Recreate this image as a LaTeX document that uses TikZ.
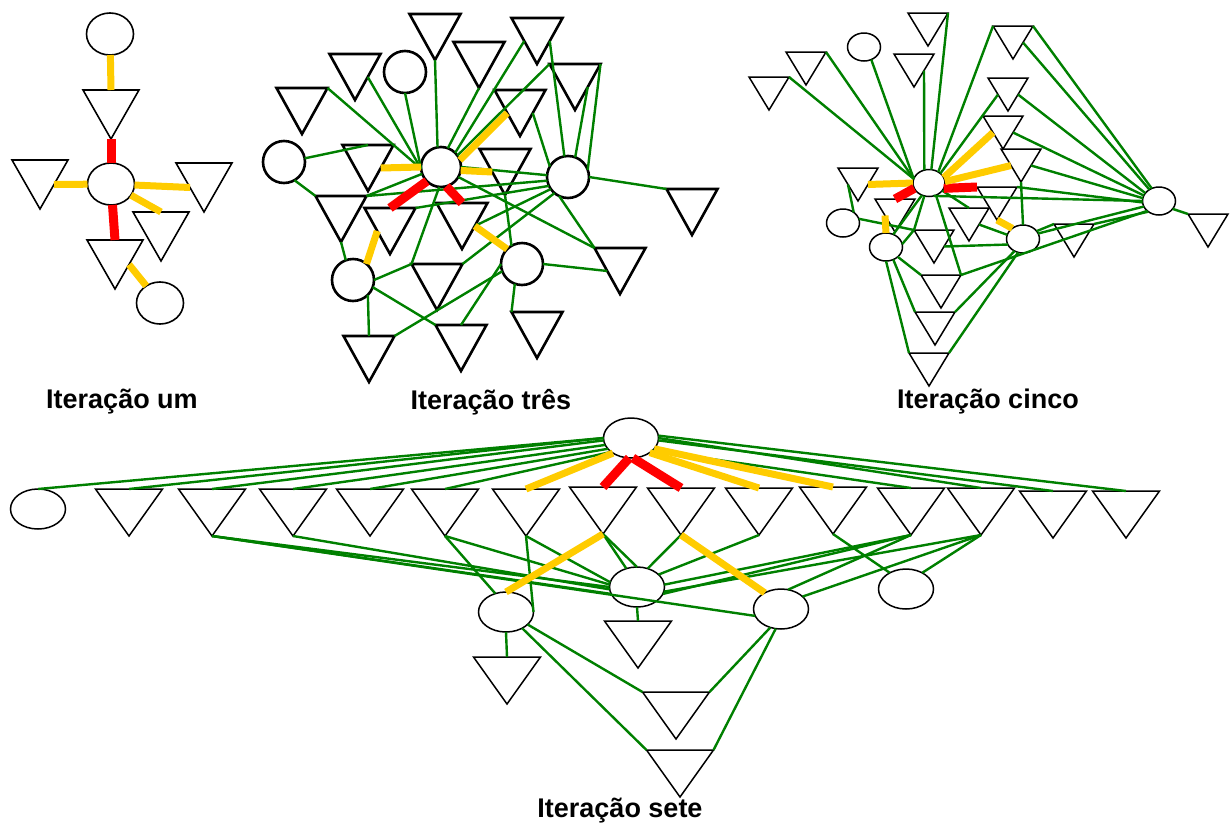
\documentclass[tikz,border=0pt]{standalone}
\usepackage{fontspec}
\setmainfont{Liberation Sans}
\usetikzlibrary{shapes.geometric}

\definecolor{linkgreen}{HTML}{008000}
\definecolor{warmyellow}{HTML}{FFCC00}
\definecolor{hotred}{HTML}{FF0000}

\newcommand{\LinkW}{2.4pt}
\newcommand{\WarmW}{7pt}
\newcommand{\HotW}{9pt}

\begin{document}
\begin{tikzpicture}[
  x=1pt, y=-1pt,
  tri w/.store in=\TriW, tri h/.store in=\TriH, tri w=56, tri h=49,
  tri/.pic={
    \draw (-\TriW/2,0) coordinate (-l) -- (\TriW/2,0) coordinate (-r) -- (0,\TriH) coordinate (-b) -- cycle;
    \coordinate (-t) at (0,0);
    \coordinate (-le) at (-\TriW/4,\TriH/2);
    \coordinate (-re) at (\TriW/4,\TriH/2);
  },
  ell/.style={ellipse, draw, fill=white, inner sep=0pt, outer sep=0pt},
  link/.style={draw=linkgreen, line width=\LinkW},
  warm/.style={draw=warmyellow, line width=\WarmW},
  hot/.style={draw=hotred, line width=\HotW},
  caption/.style={font=\bfseries\fontsize{27}{32}\selectfont}
  ]
  \useasboundingbox (0,0) rectangle (1231,828);

	%iteration one
	\begin{scope}[line width=1.6pt, tri w=56, tri h=49,
	  ell/.append style={minimum width=47pt, minimum height=42pt}]
	\foreach \n/\x/\y in {Ua/111/90, Ub/40/160, Uc/204/163, Ud/161/212, Ue/115/240}
		\pic (\n) at (\x,\y) {tri};
	\node[ell] (U0) at (111,184) {};
	\node[ell] (U1) at (110,34) {};
	\node[ell] (U2) at (160,303) {};
	\end{scope}
	\draw[warm] (U1) -- (Ua-t);
	\draw[hot] (Ua-b) -- (U0);
	\draw[warm] (Ub-re) -- (U0);
	\draw[warm] (U0) -- (Uc-le);
	\draw[warm] (U0) -- (Ud-t);
	\draw[hot] (U0) -- (Ue-t);
	\draw[warm] (Ue-re) -- (U2);
	\node[caption] (cap-um) at (122,402) {Iteração um};

	%iteration three
	\begin{scope}[line width=2.6pt, tri w=51, tri h=46,
	  ell/.append style={minimum width=42pt, minimum height=42pt}]
	\foreach \n/\x/\y in {Ta/302/88, Tb/355/54, Tc/435/14, Td/479/42, Te/537/18,
	    Tf/575/64, Tg/520/90, Th/505/149, Ti/692/189, Tj/620/248, Tk/537/312,
	    Tl/461/325, Tm/369/336, Tn/437/264, To/462/203, Tp/390/208, Tq/341/196, Tr/368/145}
		\pic (\n) at (\x,\y) {tri};
	\node[ell, minimum size=40pt] (T0) at (441,167) {};
	\node[ell] (T1) at (405,72) {};
	\node[ell] (T2) at (284,162) {};
	\node[ell] (T3) at (568,177) {};
	\node[ell] (T4) at (522,264) {};
	\node[ell] (T5) at (353,280) {};
	\end{scope}
	\foreach \a/\b in {Ta-r/T0.185, Tb-re/T0.185, T1.south/T0.185, Tc-b/T0.100, Td-b/T0.70,
	    Te-le/T0.45, Tf-l/T0.35, T2.10/Tr-t, T2.300/Tq-l, Tq-r/T0.200, Tq-r/T3.190,
	    Tp-r/T3.205, T0.east/T3.175, T0.330/Tj-l, T3.245/Tj-l, T4.east/Tj-le, T4.250/Tk-l,
	    T3.east/Ti-l, Te-re/T3.100, Tf-re/T3.70, Tf-r/T3.20, Tg-re/T3.150, Th-b/T4.120,
	    Tn-r/T3.230, Tn-l/T0.265, T5.east/Tn-l, T5.340/Tl-l, T5.315/Tm-t, Tm-r/T4.200,
	    Tl-t/T4.180, Tq-b/T5.110, To-re/T3.215}
		\draw[link] (\a) -- (\b);
	\draw[warm] (Tr-re) -- (T0.west);
	\draw[hot] (Tp-t) -- (T0.225);
	\draw[hot] (T0.285) -- (To-t);
	\draw[warm] (Tg-le) -- (T0.20);
	\draw[warm] (T0.350) -- (Th-le);
	\draw[warm] (To-re) -- (T4.135);
	\draw[warm] (Tp-le) -- (T5.50);
	\node[caption] (cap-tres) at (491,402) {Iteração três};

	%iteration five
	\begin{scope}[line width=1.5pt, tri w=40, tri h=33,
	  ell/.append style={minimum width=33pt, minimum height=28pt}]
	\foreach \n/\x/\y in {Ca/769/77, Cb/806/52, Cc/928/13, Cd/914/54, Ce/1013/26,
	    Cf/1008/78, Cg/1003/116, Ch/1021/149, Ci/1208/214, Cj/1074/224, Ck/997/187,
	    Cl/969/208, Cm/895/199, Cn/934/230, Co/941/275, Cp/935/312, Cq/929/353, Cr/858/168}
		\pic (\n) at (\x,\y) {tri};
	\node[ell, minimum width=32pt, minimum height=27pt] (C0) at (929,183) {};
	\node[ell] (C1) at (864,47) {};
	\node[ell] (C2) at (1159,201) {};
	\node[ell] (C3) at (1023,239) {};
	\node[ell] (C4) at (843,223) {};
	\node[ell] (C5) at (886,247) {};
	\end{scope}
	\foreach \a/\b in {Ca-r/C0.165, Cb-r/C0.165, C1.300/C0.165, Cd-re/C0.110, Cc-r/C0.80,
	    Ce-l/C0.50, Cf-le/C0.40, Ce-r/C2.120, Ce-re/C2.130, Cf-re/C2.150, Cg-re/C2.160,
	    Ch-re/C2.170, Ch-b/C3.north, C3.30/Cj-l, C2.330/Ci-l, C0.290/C2.180, Ck-r/C2.185,
	    Cl-re/C3.165, Cn-re/C3.200, Co-r/C2.220, Cp-r/C3.235, Cq-r/C3.250, C5.10/Cn-l,
	    C5.320/Co-l, C5.300/Cp-l, C5.270/Cq-l, C0.250/Cn-l, C0.240/C5.60, C0.300/Co-r,
	    C0.330/Cl-t, Cr-le/C4.45, C4.15/Cn-l, C3.20/C2.200, Cj-r/C2.225}
		\draw[link] (\a) -- (\b);
	\draw[warm] (Cr-re) -- (C0.west);
	\draw[hot] (C0.200) -- (Cm-t);
	\draw[hot] (C0.340) -- (Ck-l);
	\draw[warm] (C0.20) -- (Cg-le);
	\draw[warm] (C0.5) -- (Ch-le);
	\draw[warm] (Cm-le) -- (C5.north);
	\draw[warm] (Ck-b) -- (C3.135);
	\node[caption] (cap-cinco) at (988,402) {Iteração cinco};

	%iteration seven
	\begin{scope}[line width=1.5pt, tri w=67, tri h=47,
	  ell/.append style={minimum width=55pt, minimum height=40pt}]
	\foreach \n/\x/\y in {Sa/129/489, Sb/212/489, Sc/293/489, Sd/370/489, Se/445/489,
	    Sf/526/489, Sg/603/487, Sh/681/488, Si/759/488, Sj/833/487, Sk/911/488,
	    Sl/981/488, Sm/1053/491, Sn/1126/491, So/638/621, Sp/507/657, Sq/676/692, Sr/680/750}
		\pic (\n) at (\x,\y) {tri};
	\node[ell] (S0) at (631,438) {};
	\node[ell] (S1) at (38,509) {};
	\node[ell] (S2) at (637,587) {};
	\node[ell] (S3) at (506,612) {};
	\node[ell] (S4) at (781,609) {};
	\node[ell] (S5) at (906,589) {};
	\end{scope}
	\foreach \a/\b in {S0.180/S1.north, S0.180/Sa-t, S0.185/Sb-t, S0.195/Sc-t, S0.205/Sd-t,
	    S0.215/Se-t, S0.330/Sk-t, S0.0/Sl-t, S0.355/Sm-t, S0.5/Sn-t,
	    Se-b/S3.120, Se-b/S2.175, Sf-b/S3.east, Sf-b/S2.170, Sg-b/S2.north, Sg-b/S2.120,
	    Sh-b/S2.60, Si-b/S2.30, Sb-b/S2.180, Sb-b/S2.195, Sc-b/S2.185, Sb-b/S4.195,
	    Sj-b/S5.135, Sk-b/S2.5, Sk-b/S2.345, Sk-b/S4.70, Sl-b/S2.350, Sl-b/S4.30,
	    Sl-b/S5.45, S3.south/Sp-t, S3.330/Sq-l, S3.315/Sr-l, S4.240/Sq-r, S4.255/Sr-r,
	    S2.south/So-t}
		\draw[link] (\a) -- (\b);
	\draw[warm] (S0.220) -- (Sf-t);
	\draw[warm] (S0.322) -- (Si-t);
	\draw[warm] (S0.335) -- (Sj-t);
	\draw[hot] (S0.265) -- (Sg-t);
	\draw[hot] (S0.275) -- (Sh-t);
	\draw[warm] (Sg-b) -- (S3.north);
	\draw[warm] (Sh-b) -- (S4.135);
	\node[caption] (cap-sete) at (620,811) {Iteração sete};

\end{tikzpicture}
\end{document}
